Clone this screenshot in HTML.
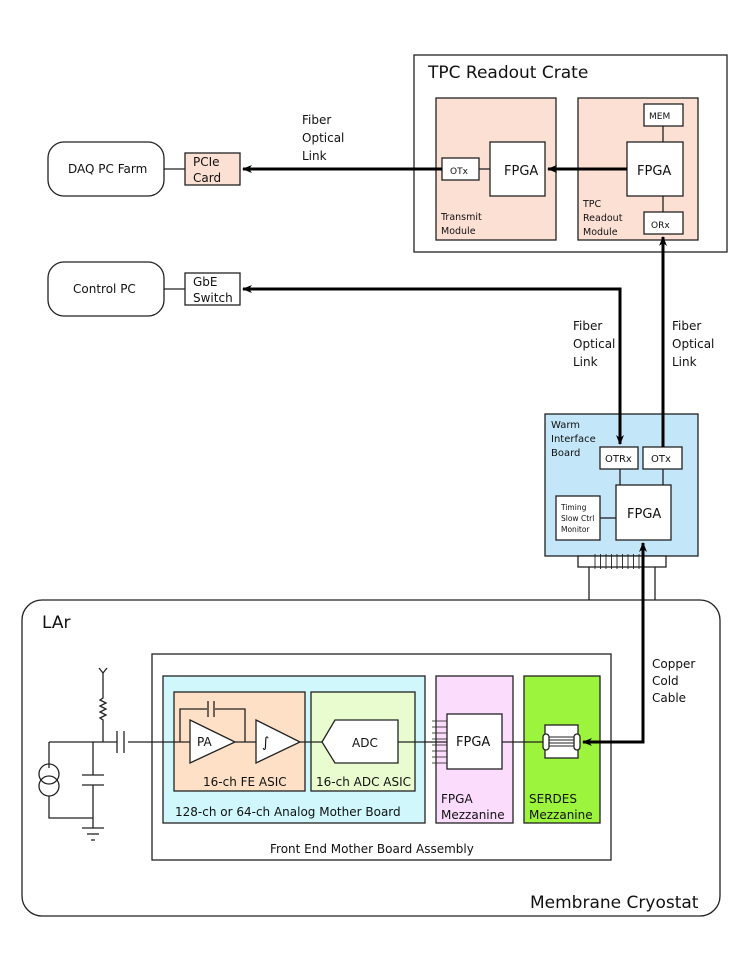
<!DOCTYPE html>
<html><head><meta charset="utf-8"><style>
html,body{margin:0;padding:0;background:#fff;}
svg{display:block;font-family:"DejaVu Sans","Liberation Sans",sans-serif;}
</style></head><body>
<svg width="742" height="960" viewBox="0 0 742 960" xmlns="http://www.w3.org/2000/svg">
<defs>
<marker id="ah" markerWidth="10" markerHeight="8" refX="9" refY="4" orient="auto" markerUnits="userSpaceOnUse">
<path d="M0,0 L10,4 L0,8 L3,4 Z" fill="#000"/></marker>
</defs>
<g stroke="#222" stroke-width="1.3" fill="none">
<!-- TPC crate -->
<rect x="414" y="55" width="313" height="197" fill="#fff"/>
<rect x="436" y="98" width="120" height="142" fill="#fde0d4"/>
<rect x="578" y="98" width="120" height="142" fill="#fde0d4"/>
<rect x="442" y="158" width="37" height="22" fill="#fff"/>
<rect x="490" y="142" width="55" height="54" fill="#fff"/>
<line x1="479" y1="169" x2="490" y2="169"/>
<rect x="644" y="104" width="39" height="22" fill="#fff"/>
<rect x="627" y="142" width="56" height="54" fill="#fff"/>
<rect x="644" y="212" width="39" height="22" fill="#fff"/>
<line x1="663" y1="126" x2="663" y2="142"/>
<line x1="663" y1="196" x2="663" y2="212"/>
<!-- DAQ / control -->
<rect x="48" y="142" width="116" height="54" rx="16" fill="#fff"/>
<rect x="185" y="153" width="55" height="32" fill="#fde0d4"/>
<line x1="164" y1="169" x2="185" y2="169"/>
<rect x="48" y="262" width="116" height="54" rx="16" fill="#fff"/>
<rect x="185" y="273" width="55" height="32" fill="#fff"/>
<line x1="164" y1="289" x2="185" y2="289"/>
<!-- WIB -->
<rect x="545" y="414" width="153" height="142" fill="#c3e6f8"/>
<rect x="600" y="447" width="38" height="22" fill="#fff"/>
<rect x="643" y="447" width="39" height="22" fill="#fff"/>
<rect x="616" y="485" width="55" height="55" fill="#fff"/>
<rect x="556" y="496" width="44" height="44" fill="#fff"/>
<line x1="600" y1="518" x2="616" y2="518"/>
<line x1="620" y1="469" x2="620" y2="485"/>
<line x1="663" y1="469" x2="663" y2="485"/>
<rect x="578" y="556" width="88" height="11" fill="#fff"/>
<line x1="589" y1="567" x2="589" y2="600"/>
<line x1="655" y1="567" x2="655" y2="600"/>
<g stroke-width="0.9">
<line x1="595" y1="554" x2="595" y2="569"/><line x1="600.5" y1="554" x2="600.5" y2="569"/><line x1="606" y1="554" x2="606" y2="569"/><line x1="611.5" y1="554" x2="611.5" y2="569"/><line x1="617" y1="554" x2="617" y2="569"/><line x1="622.5" y1="554" x2="622.5" y2="569"/><line x1="628" y1="554" x2="628" y2="569"/><line x1="633.5" y1="554" x2="633.5" y2="569"/><line x1="639" y1="554" x2="639" y2="569"/>
</g>
<!-- LAr -->
<rect x="22" y="600" width="698" height="316" rx="20" fill="none"/>
<rect x="152" y="654" width="459" height="206" fill="#fff"/>
<rect x="163" y="676" width="262" height="147" fill="#d0f8fc"/>
<rect x="174" y="692" width="131" height="99" fill="#fde0c6"/>
<rect x="311" y="692" width="104" height="99" fill="#e8fcd0"/>
<rect x="436" y="676" width="77" height="147" fill="#fcdcfc"/>
<rect x="524" y="676" width="76" height="147" fill="#9cf43c"/>
<rect x="447" y="714" width="55" height="55" fill="#fff"/>
<!-- signal line -->
<line x1="49" y1="742" x2="117" y2="742"/>
<line x1="128" y1="742" x2="190" y2="742"/>
<line x1="235" y1="742" x2="256" y2="742"/>
<line x1="300" y1="742" x2="322" y2="742"/>
<line x1="398" y1="742" x2="447" y2="742"/>
<line x1="502" y1="742" x2="545" y2="742"/>
<g stroke-width="0.8">
<line x1="432" y1="721" x2="447" y2="721"/><line x1="432" y1="727" x2="447" y2="727"/><line x1="432" y1="733" x2="447" y2="733"/><line x1="432" y1="739" x2="447" y2="739"/><line x1="432" y1="745" x2="447" y2="745"/><line x1="432" y1="751" x2="447" y2="751"/><line x1="432" y1="757" x2="447" y2="757"/><line x1="432" y1="763" x2="447" y2="763"/>
</g>
<polygon points="190,720 235,742 190,763" fill="#fff"/>
<polygon points="256,720 300,742 256,763" fill="#fff"/>
<polyline points="180,742 180,709 207,709"/>
<polyline points="215,709 245,709 245,742"/>
<line x1="208" y1="701" x2="208" y2="717"/><line x1="214" y1="701" x2="214" y2="717"/>
<polygon points="322,742 335,720 398,720 398,763 335,763" fill="#fff"/>
<!-- serdes connector -->
<rect x="545" y="725" width="33" height="33" fill="#fff"/>
<rect x="543" y="734" width="6" height="16" rx="3" fill="#fff"/>
<rect x="574" y="734" width="6" height="16" rx="3" fill="#fff"/>
<g stroke-width="0.9"><line x1="549" y1="737" x2="574" y2="737"/><line x1="549" y1="740" x2="574" y2="740"/><line x1="549" y1="743" x2="574" y2="743"/><line x1="549" y1="746" x2="574" y2="746"/></g>
<!-- input circuit -->
<line x1="117" y1="731" x2="117" y2="753"/><line x1="124" y1="731" x2="124" y2="753"/>
<polyline points="103,742 103,720 100,718 106,715 100,712 106,709 100,706 106,703 100,700 103,698 103,673"/>
<polyline points="99,668 103,673 107,668"/>
<line x1="49" y1="742" x2="49" y2="768"/>
<circle cx="49" cy="774" r="10"/><circle cx="49" cy="786" r="10"/>
<polyline points="49,796 49,818 93,818"/>
<line x1="93" y1="742" x2="93" y2="775"/>
<line x1="82" y1="775" x2="104" y2="775"/><line x1="82" y1="785" x2="104" y2="785"/>
<line x1="93" y1="785" x2="93" y2="828"/>
<line x1="82" y1="828" x2="104" y2="828"/><line x1="87" y1="834" x2="99" y2="834"/><line x1="91" y1="840" x2="95" y2="840"/>
</g>
<!-- thick arrows -->
<g stroke="#000" stroke-width="3" fill="none">
<line x1="627" y1="169" x2="548" y2="169" marker-end="url(#ah)"/>
<line x1="442" y1="169" x2="243" y2="169" marker-end="url(#ah)"/>
<polyline points="620,400 620,289 243,289" marker-end="url(#ah)"/>
<line x1="620" y1="395" x2="620" y2="444" marker-end="url(#ah)"/>
<line x1="663" y1="447" x2="663" y2="237" marker-end="url(#ah)"/>
<polyline points="643,600 643,742 583,742" marker-end="url(#ah)"/>
<line x1="643" y1="605" x2="643" y2="543" marker-end="url(#ah)"/>
</g>
<!-- text -->
<g fill="#111" font-size="12">
<text x="428" y="78" font-size="17">TPC Readout Crate</text>
<text x="504" y="175" font-size="13">FPGA</text>
<text x="450" y="174" font-size="9">OTx</text>
<text x="441" y="220" font-size="9.5">Transmit</text>
<text x="441" y="234" font-size="9.5">Module</text>
<text x="649" y="119" font-size="9">MEM</text>
<text x="637" y="175" font-size="13">FPGA</text>
<text x="651" y="228" font-size="9">ORx</text>
<text x="583" y="207" font-size="9.5">TPC</text>
<text x="583" y="221" font-size="9.5">Readout</text>
<text x="583" y="235" font-size="9.5">Module</text>
<text x="302" y="124">Fiber</text><text x="302" y="142">Optical</text><text x="302" y="160">Link</text>
<text x="68" y="173">DAQ PC Farm</text>
<text x="193" y="166">PCIe</text><text x="193" y="182">Card</text>
<text x="73" y="293">Control PC</text>
<text x="193" y="286">GbE</text><text x="193" y="302">Switch</text>
<text x="573" y="330">Fiber</text><text x="573" y="348">Optical</text><text x="573" y="366">Link</text>
<text x="672" y="330">Fiber</text><text x="672" y="348">Optical</text><text x="672" y="366">Link</text>
<text x="551" y="428" font-size="10">Warm</text><text x="551" y="442" font-size="10">Interface</text><text x="551" y="456" font-size="10">Board</text>
<text x="605" y="462" font-size="10">OTRx</text>
<text x="651" y="462" font-size="10">OTx</text>
<text x="627" y="518" font-size="13">FPGA</text>
<text x="561" y="510" font-size="7.5">Timing</text><text x="561" y="521" font-size="7.5">Slow Ctrl</text><text x="561" y="532" font-size="7.5">Monitor</text>
<text x="652" y="668">Copper</text><text x="652" y="685">Cold</text><text x="652" y="702">Cable</text>
<text x="42" y="628" font-size="17">LAr</text>
<text x="530" y="908" font-size="17">Membrane Cryostat</text>
<text x="270" y="853">Front End Mother Board Assembly</text>
<text x="175" y="816">128-ch or 64-ch Analog Mother Board</text>
<text x="203" y="786">16-ch FE ASIC</text>
<text x="316" y="786">16-ch ADC ASIC</text>
<text x="197" y="746">PA</text>
<text x="262" y="747" font-style="italic" font-size="14">∫</text>
<text x="352" y="747">ADC</text>
<text x="456" y="746" font-size="13">FPGA</text>
<text x="441" y="803">FPGA</text><text x="441" y="819">Mezzanine</text>
<text x="529" y="803">SERDES</text><text x="529" y="819">Mezzanine</text>
</g>
</svg>
</body></html>
